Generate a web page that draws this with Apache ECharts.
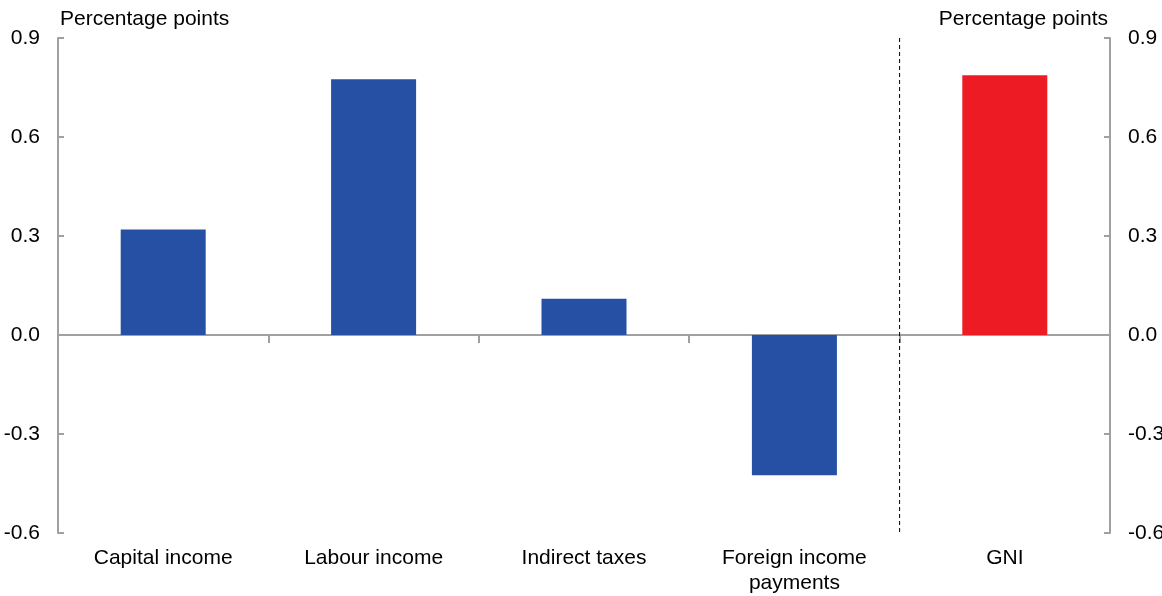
<!DOCTYPE html>
<html>
<head>
<meta charset="utf-8">
<script src="https://cdn.jsdelivr.net/npm/echarts@6/dist/echarts.min.js"></script>
<style>
html,body{margin:0;padding:0;background:#fff;}
#chart{width:1162px;height:596px;}
</style>
</head>
<body>
<div id="chart"></div>
<script>
var categories = ['Capital income', 'Labour income', 'Indirect taxes', 'Foreign income\npayments', 'GNI'];
var values = [0.32, 0.775, 0.11, -0.425, 0.787];
var yTicks = [-0.6, -0.3, 0.0, 0.3, 0.6, 0.9];
var dividerX = [4, 4];
var dividerY = [0.9, -0.6];

var FONT = 'Liberation Sans, Arial, sans-serif';
var AXIS_GREY = '#a0a0a0';
var BLUE = '#2550a3';
var RED = '#ed1c24';

var chart = echarts.init(document.getElementById('chart'));
var yMin = yTicks[0], yMax = yTicks[yTicks.length - 1];

function yAxisCfg(pos) {
  return {
    type: 'value', position: pos, min: yMin, max: yMax, interval: 0.3,
    axisLine: {show: true, lineStyle: {color: AXIS_GREY, width: 2}},
    axisTick: {show: true, inside: true, length: 6, lineStyle: {color: AXIS_GREY, width: 2}},
    splitLine: {show: false},
    axisLabel: {
      margin: 18, color: '#000', fontSize: 21, fontFamily: FONT,
      formatter: function (v) { return (Math.round(v * 10) / 10).toFixed(1); }
    }
  };
}

chart.setOption({
  animation: false,
  backgroundColor: '#fff',
  title: [
    {text: 'Percentage points', left: 55, top: 4,
     textStyle: {fontSize: 21, fontWeight: 'normal', color: '#000', fontFamily: FONT}},
    {text: 'Percentage points', right: 49, top: 4,
     textStyle: {fontSize: 21, fontWeight: 'normal', color: '#000', fontFamily: FONT}}
  ],
  grid: {left: 58, right: 52, top: 38, bottom: 63, containLabel: false, outerBoundsMode: 'none'},
  xAxis: [
    {
      type: 'category', data: categories, position: 'bottom',
      axisLine: {show: false, onZero: false}, axisTick: {show: false},
      axisLabel: {margin: 13, color: '#000', fontSize: 21, fontFamily: FONT, lineHeight: 25, interval: 0}
    },
    {
      type: 'category', data: categories, position: 'bottom',
      axisLine: {show: true, onZero: true, lineStyle: {color: AXIS_GREY, width: 2}},
      axisTick: {show: true, length: 8, lineStyle: {color: AXIS_GREY, width: 2}},
      axisLabel: {show: false}
    },
    {type: 'value', min: 0, max: categories.length, show: false}
  ],
  yAxis: [yAxisCfg('left'), yAxisCfg('right')],
  series: [
    {
      type: 'bar', data: values, xAxisIndex: 0, yAxisIndex: 0, barWidth: 85,
      itemStyle: {color: function (p) { return p.name === 'GNI' ? RED : BLUE; }}
    },
    {
      type: 'line', xAxisIndex: 2, yAxisIndex: 0, symbol: 'none', silent: true,
      data: [[dividerX[0], dividerY[0]], [dividerX[1], dividerY[1]]],
      lineStyle: {color: '#000', width: 1, type: [4, 3]}, z: 5
    }
  ]
});
</script>
</body>
</html>
